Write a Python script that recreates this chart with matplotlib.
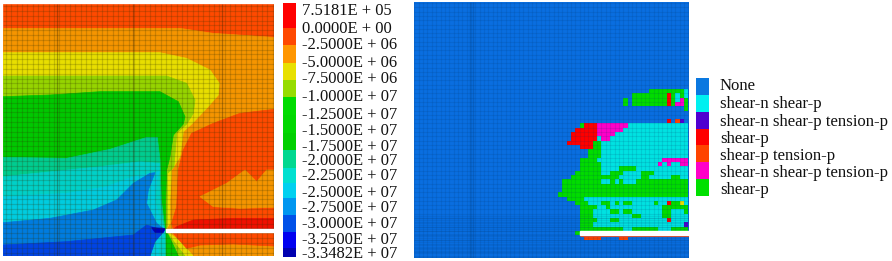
import matplotlib
matplotlib.use("Agg")
import matplotlib.pyplot as plt
from matplotlib.colors import ListedColormap
import numpy as np

plt.rcParams["font.family"] = ["Liberation Serif", "DejaVu Serif"]

W, H = 892, 261

# stress scale
scale_labels = ["7.5181E + 05", "0.0000E + 00", "-2.5000E + 06", "-5.0000E + 06", "-7.5000E + 06",
                "-1.0000E + 07", "-1.2500E + 07", "-1.5000E + 07", "-1.7500E + 07", "-2.0000E + 07",
                "-2.2500E + 07", "-2.5000E + 07", "-2.7500E + 07", "-3.0000E + 07", "-3.2500E + 07",
                "-3.3482E + 07"]
scale_label_y = [9.3, 26.7, 42.7, 61, 77.3, 95, 112.7, 129.3, 145, 159.3, 174, 190.7, 206, 222, 237.6, 252]
scale_edges = [3, 28, 45, 63, 80, 97, 115, 133, 150, 168, 183, 198, 215, 232, 248, 257]
scale_colors = ["#ff0000", "#ff4800", "#ff9600", "#e8e000", "#96dc00", "#00dc00", "#00d800", "#00d000",
                "#00d890", "#00e0d0", "#00d0f0", "#0096f0", "#0050e8", "#0000f0", "#0000b0"]

# contour regions of the stress field, painted back to front
top_region = [(10, 12), (822, 12), (822, 768), (10, 768)]
orange_region = [(10, 85), (540, 85), (640, 100), (822, 112), (822, 768), (10, 768)]
yellow_region = [(10, 158), (480, 158), (560, 175), (630, 210), (658, 250), (655, 285), (620, 325), (575, 372),
                 (550, 395), (540, 470), (515, 510), (510, 600), (510, 670), (497, 690), (535, 720), (580, 768),
                 (10, 768)]
lime_region = [(10, 228), (500, 228), (560, 250), (585, 300), (580, 340), (560, 372), (530, 400), (522, 500),
               (503, 520), (502, 680), (497, 690), (525, 730), (555, 768), (10, 768)]
green_region = [(10, 290), (150, 285), (300, 275), (480, 275), (535, 305), (555, 350), (550, 372), (520, 405),
                (510, 470), (500, 510), (497, 600), (497, 690), (515, 725), (535, 768), (10, 768)]
teal_region = [(10, 472), (200, 475), (330, 448), (440, 412), (472, 412), (480, 480), (484, 600), (495, 690),
               (497, 768), (10, 768)]
turquoise_region = [(10, 530), (300, 500), (420, 485), (478, 490), (480, 600), (490, 680), (495, 690), (495, 768),
                    (10, 768)]
cyan_region = [(10, 590), (200, 580), (320, 560), (400, 530), (478, 515), (470, 540), (465, 600), (480, 660),
               (495, 690), (477, 730), (475, 768), (10, 768)]
sky_region = [(10, 668), (150, 655), (280, 630), (350, 600), (400, 550), (450, 520), (465, 518), (445, 570),
              (440, 610), (470, 670), (495, 690), (462, 725), (450, 768), (10, 768)]
blue_region = [(10, 735), (200, 725), (300, 715), (400, 705), (440, 675), (470, 685), (495, 690), (465, 725),
               (450, 768), (10, 768)]
navy_region = [(455, 683), (495, 685), (490, 697), (465, 697)]
patch_region = [(822, 328), (720, 340), (640, 370), (575, 400), (550, 450), (535, 510), (530, 620), (515, 670),
                (520, 688), (822, 688)]
patch_orange = [(600, 590), (680, 550), (735, 510), (770, 545), (800, 510), (822, 510), (822, 622), (720, 625),
                (640, 620)]
patch_red = [(530, 680), (580, 660), (700, 655), (822, 655), (822, 688), (520, 688)]
under_crack = [(520, 700), (822, 700), (822, 738), (700, 732), (600, 735), (560, 745)]
stress_layers = [(top_region, "#ff4a00"), (orange_region, "#f59500"), (yellow_region, "#e8de00"),
                 (lime_region, "#96d400"), (green_region, "#00c800"), (patch_region, "#ff4a00"),
                 (patch_orange, "#f59500"), (patch_red, "#f01000"), (under_crack, "#ff4a00"),
                 (teal_region, "#00cc90"), (turquoise_region, "#00d0c8"), (cyan_region, "#00cce0"),
                 (sky_region, "#007ce0"), (blue_region, "#0044e4"), (navy_region, "#0000b8")]

# failure states, one string per element row, "." is None
state_rows = [
    "." * 21 + "g" * 8 + "c",
    "." * 17 + "g" * 8 + "rgcgc",
    "." * 15 + "g." + "g" * 8 + "rgcmg",
    "." * 15 + "g." + "g" * 8 + "rgmmg",
    "." * 29 + "g",
    "." * 30,
    "." * 30,
    "." * 25 + "r.ov.",
    "." * 5 + "grrr" + "m" * 7 + "c" * 14,
    "." * 4 + "r" * 5 + "m" * 6 + "c" * 15,
    "..." + "r" * 6 + "m" * 4 + "c" * 17,
    "..." + "r" * 6 + "cmm" + "c" * 18,
    ".." + "r" * 6 + "gg" + "c" * 20,
    "." * 5 + "rrrgg" + "c" * 20,
    "." * 7 + "ggg" + "c" * 20,
    "." * 7 + "ggg" + "c" * 20,
    "." * 5 + "gggg" + "c" * 15 + "m" * 6,
    "." * 5 + "g" * 5 + "c" * 13 + "mcmccmm",
    "." * 5 + "g" * 5 + "c" * 4 + "g" * 4 + "c" * 12,
    "." * 4 + "g" * 6 + "cc" + "ggg" + "cccc" + "ggg" + "c" * 8,
    "..." + "g" * 11 + "c" * 5 + "gg" + "c" * 5 + "ggcc",
    "." + "g" * 9 + "ccgcgccc" + "g" * 12,
    "." + "g" * 29,
    "." + "g" * 29,
    "g" * 30,
    ".." + "g" * 4 + "c" * 24,
    "....gggcccggcgcgg" + "c" * 5 + "gccrggyc",
    "." * 5 + "g" * 4 + "ccg" + "c" * 12 + "g" * 6,
    "." * 5 + "ggg" + "cccc" + "ggcgg" + "c" * 7 + "ggcccg",
    "." * 5 + "ggg" + "c" * 9 + "gg" + "c" * 5 + "gg" + "cccc",
    "." * 5 + "gggg" + "ccc" + "gg" + "c" * 11 + "rcccc",
    "." * 5 + "ggg" + "c" * 21 + "v",
    "." * 5 + "g" * 10 + "cc" + "g" * 6 + "ccc" + "gggg",
    "....g" + "." * 25,
    "." * 6 + "oooo" + "...." + "oo" + "." * 14,
]
state_codes = ".cvromgy"
state_colors = ["#0a6ee0", "#00e2e2", "#5000d0", "#ff0000", "#ff4400", "#ff00c8", "#00dc00", "#e8e000"]

legend_labels = ["None", "shear-n shear-p", "shear-n shear-p tension-p", "shear-p", "shear-p tension-p",
                 "shear-n shear-p tension-p", "shear-p"]
legend_colors = ["#0a78e0", "#00f0f0", "#5000d0", "#ff0000", "#ff4400", "#ff00c8", "#00e000"]
legend_label_y = [84, 102, 120, 137, 154, 171, 188]


def px_axes(fig, x0, y0, x1, y1):
    # axes placed in image pixels, y counted from the top
    ax = fig.add_axes([x0 / W, 1 - y1 / H, (x1 - x0) / W, (y1 - y0) / H])
    ax.set_xticks([])
    ax.set_yticks([])
    for s in ax.spines.values():
        s.set_visible(False)
    return ax


fig = plt.figure(figsize=(W / 100, H / 100), dpi=100)

# left panel
ax1 = px_axes(fig, 3.3, 4, 274, 256)
ax1.set_xlim(10, 822)
ax1.set_ylim(768, 12)
for poly, color in stress_layers:
    ax1.fill(*zip(*poly), color=color, lw=0.5, ec=color)
ax1.vlines(np.arange(18, 822, 16), 12, 768, color="#303000", alpha=0.2, lw=0.9)
ax1.hlines(np.arange(18, 768, 14.5), 10, 822, color="#303000", alpha=0.2, lw=0.9)
ax1.vlines([170, 400, 665], 12, 768, color="#302000", alpha=0.35, lw=0.9)
ax1.fill([497, 822, 822, 497], [688, 688, 697, 697], color="white", zorder=5)

# stress colour bar
cax = px_axes(fig, 283, 3, 296, 257)
cax.set_ylim(257, 3)
cax.set_xlim(0, 1)
for i, color in enumerate(scale_colors):
    cax.fill_between([0, 1], scale_edges[i], scale_edges[i + 1], color=color, lw=0)
cax.yaxis.tick_right()
cax.set_yticks(scale_label_y)
cax.set_yticklabels(scale_labels, fontsize=11.9, color="#111111")
cax.tick_params(axis="y", length=0, pad=4.3)

# right panel
ax2 = px_axes(fig, 414, 2, 689, 258)
ax2.set_xlim(414, 689)
ax2.set_ylim(258, 2)
ax2.set_facecolor(state_colors[0])
state_grid = np.array([[state_codes.index(ch) for ch in row] for row in state_rows])
cell_w, cell_h = 4.35, 4.3
xe = 557.95 + cell_w * np.arange(state_grid.shape[1] + 1)
ye = 89 + cell_h * np.arange(state_grid.shape[0] + 1)
ax2.pcolormesh(xe, ye, state_grid, cmap=ListedColormap(state_colors), vmin=-0.5, vmax=7.5)
ax2.vlines(557.95 + cell_w * np.arange(-33, 31), 2, 258, color="#003060", alpha=0.12, lw=0.8)
ax2.hlines(89 + cell_h * np.arange(-20, 40), 414, 689, color="#003060", alpha=0.12, lw=0.8)
ax2.hlines(np.arange(216, 258, 2.2), 414, 689, color="#003060", alpha=0.1, lw=0.8)
ax2.vlines([470, 473], 2, 258, color="#003060", alpha=0.22, lw=1)
ax2.fill([579.7, 689, 689, 579.7], [230.9, 230.9, 235, 235], color="white", zorder=5)
ax2.hlines(235.6, 580, 689, color="#c83010", lw=0.8, zorder=4)

# failure state legend
lax = px_axes(fig, 695.7, 78, 709, 196)
lax.set_ylim(196, 78)
lax.set_xlim(0, 1)
legend_edges = np.linspace(78, 196, len(legend_colors) + 1)
for i, color in enumerate(legend_colors):
    lax.fill_between([0, 1], legend_edges[i], legend_edges[i + 1], color=color, lw=0)
lax.yaxis.tick_right()
lax.set_yticks(legend_label_y)
lax.set_yticklabels(legend_labels, fontsize=12.1, color="#111111")
lax.tick_params(axis="y", length=0, pad=7.8)

fig.savefig("out.png", dpi=100, facecolor="white")
